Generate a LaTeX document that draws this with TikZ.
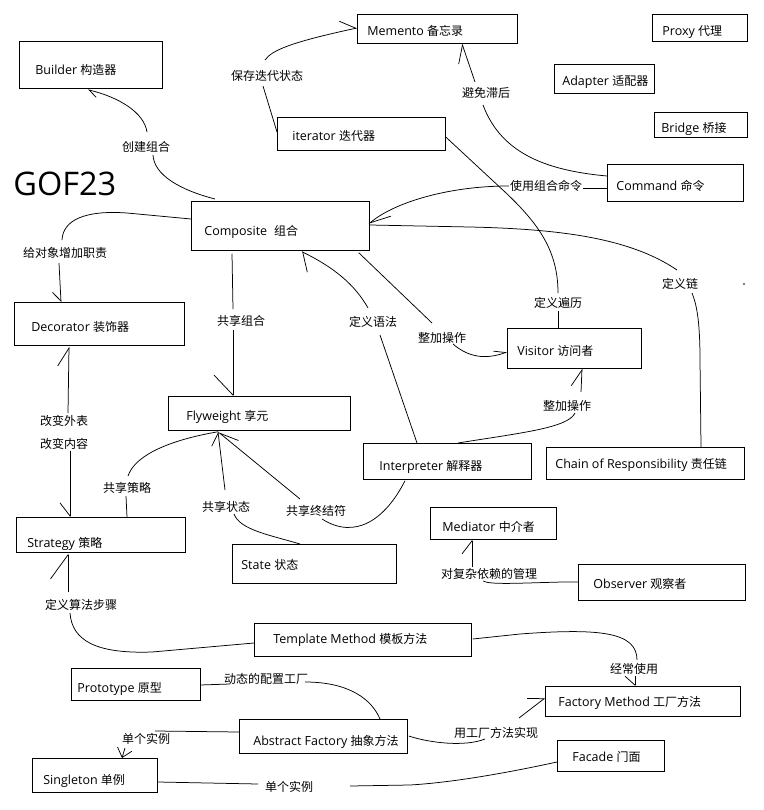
\documentclass[tikz,border=0pt]{standalone}
\usepackage{fontspec}
\setmainfont{Open Sans}
\newfontfamily\cjk{Noto Sans CJK SC}[Scale=0.96]
\usetikzlibrary{arrows.meta,calc}
\newcommand\bxt[4]{\makebox[#1pt][l]{\hspace{#2pt}\raisebox{-#3pt}{#4}}}
\begin{document}
\begin{tikzpicture}[x=1pt,y=-1pt,line width=0.75pt,
  bx/.style n args={2}{draw, anchor=north west, inner sep=0pt, minimum width=#1pt, minimum height=#2pt,
     text height=10pt, text depth=2pt, font=\fontsize{12.5}{15}\selectfont},
  lb/.style={inner sep=1pt, text height=10pt, text depth=2pt, font=\fontsize{12.5}{15}\selectfont\cjk},
  harpL/.style 2 args={-{Straight Barb[left,length=#1pt,width=#2pt]}},
  harpR/.style 2 args={-{Straight Barb[right,length=#1pt,width=#2pt]}},
  fullbarb/.style 2 args={-{Straight Barb[length=#1pt,width=#2pt]}}]
\fill[white] (0,0) rectangle (763,810);
\useasboundingbox (0,0) rectangle (763,810);

% title
\node[anchor=west, inner sep=0pt, text height=23pt, text depth=0pt, font=\fontsize{32.5}{34}\selectfont] (gof) at (13,184) {GOF23};

% boxes
\node[bx={160}{29}] (mem) at (357,14) {\bxt{160}{10}{3.1}{Memento {\cjk 备忘录}}};
\node[bx={95}{27}] (proxy) at (652,14) {\bxt{95}{10}{4.1}{Proxy {\cjk 代理}}};
\node[bx={100}{29}] (adapter) at (554,64) {\bxt{100}{8}{3.1}{Adapter {\cjk 适配器}}};
\node[bx={93}{25}] (bridge) at (654,112) {\bxt{93}{7}{4.1}{Bridge {\cjk 桥接}}};
\node[bx={143}{47}] (builder) at (19,41) {\bxt{143}{16}{6.1}{Builder {\cjk 构造器}}};
\node[bx={168}{33}] (iter) at (277,117) {\bxt{168}{15}{3.1}{iterator {\cjk 迭代器}}};
\node[bx={136}{37}] (cmd) at (607,164) {\bxt{136}{9}{4.1}{Command {\cjk 命令}}};
\node[bx={178}{49}] (comp) at (191,201) {\bxt{178}{13}{6.1}{Composite\hspace{7pt}{\cjk 组合}}};
\node[bx={170}{43}] (deco) at (14,302) {\bxt{170}{17}{4.1}{Decorator {\cjk 装饰器}}};
\node[bx={182}{34}] (fly) at (168,396) {\bxt{182}{18}{3.6}{Flyweight {\cjk 享元}}};
\node[bx={134}{40}] (vis) at (507,328) {\bxt{134}{10}{3.6}{Visitor {\cjk 访问者}}};
\node[bx={168}{36}] (interp) at (363,443) {\bxt{168}{16}{5.6}{Interpreter {\cjk 解释器}}};
\node[bx={198}{32}] (chain) at (546,447) {\bxt{198}{9}{1.6}{Chain of Responsibility {\cjk 责任链}}};
\node[bx={169}{35}] (strat) at (16,517) {\bxt{169}{11}{9.1}{Strategy {\cjk 策略}}};
\node[bx={164}{39}] (state) at (232,544) {\bxt{164}{9}{2.1}{State {\cjk 状态}}};
\node[bx={126}{32}] (med) at (430,507) {\bxt{126}{12}{4.6}{Mediator {\cjk 中介者}}};
\node[bx={167}{36}] (obs) at (578,564) {\bxt{167}{15}{2.6}{Observer {\cjk 观察者}}};
\node[bx={217}{33}] (tmpl) at (254,623) {\bxt{217}{19}{0.1}{Template Method {\cjk 模板方法}}};
\node[bx={129}{32}] (proto) at (71,668) {\bxt{129}{6}{4.6}{Prototype {\cjk 原型}}};
\node[bx={168}{34}] (abs) at (239,719) {\bxt{168}{14}{5.6}{Abstract Factory {\cjk 抽象方法}}};
\node[bx={195}{30}] (fm) at (545,686) {\bxt{195}{13}{1.6}{Factory Method {\cjk 工厂方法}}};
\node[bx={107}{31}] (fac) at (557,740) {\bxt{107}{15}{2.1}{Facade {\cjk 门面}}};
\node[bx={125}{34}] (single) at (32,758) {\bxt{125}{11}{5.6}{Singleton {\cjk 单例}}};

% labels
\node[lb] (l1) at (146,148) {创建组合};
\node[lb] (l2) at (267,77) {保存迭代状态};
\node[lb] (l3) at (486,94) {避免滞后};
\node[lb] (l4) at (546,187) {使用组合命令};
\node[lb] (l5) at (558,303) {定义遍历};
\node[lb] (l6) at (680,284) {定义链};
\node[lb] (l7) at (442,338) {整加操作};
\node[lb] (l8) at (567,406) {整加操作};
\node[lb] (l9) at (373,322) {定义语法};
\node[lb] (l10) at (241,321) {共享组合};
\node[lb] (l11) at (65,253) {给对象增加职责};
\node[lb] (l12a) at (64,421) {改变外表};
\node[lb] (l12b) at (64,444) {改变内容};
\node[lb] (l13) at (127,488) {共享策略};
\node[lb] (l14) at (226,507) {共享状态};
\node[lb] (l15) at (316,511) {共享终结符};
\node[lb] (l16) at (489,574) {对复杂依赖的管理};
\node[lb] (l17) at (81,605) {定义算法步骤};
\node[lb] (l18) at (634,669) {经常使用};
\node[lb] (l19) at (266,679) {动态的配置工厂};
\node[lb] (l20) at (496,733) {用工厂方法实现};
\node[lb] (l21) at (146,739) {单个实例};
\node[lb] (l22) at (289,787) {单个实例};

% connectors
% Composite -> Builder
\draw ($(comp.north west)+(24,-2)$) .. controls (180,190) and (154,175) .. ($(l1)+(7,7)$);
\draw[harpL={8.5}{11}] ($(l1)+(1,-16)$) .. controls (144,112) and (118,97) .. ($(builder.south west)+(69,1)$);
% iterator -> Memento
\draw ($(iter.north west)+(0,15)$) -- ($(l2)+(-4,9)$);
\draw[harpL={14.7}{20.6}] ($(l2)+(-2,-17)$) .. controls (272,50) and (292,42) .. ($(mem.north west)+(0,14)$);
% Command -> Memento
\draw ($(cmd.north west)+(0,12)$) .. controls (540,170) and (500,150) .. ($(l3)+(-3,11)$);
\draw[harpL={16.8}{19.4}] ($(l3)+(-11,-12)$) -- ($(mem.south west)+(105,0)$);
% Command -> Composite
\draw ($(cmd.north west)+(0,24)$) -- ($(l4)+(37,1)$);
\draw[harpL={20}{17}] ($(l4)+(-37,-1)$) .. controls (445,186) and (392,204) .. ($(comp.north east)+(-1,23)$);
% iterator -- Visitor
\draw ($(iter.north east)+(0,20)$) -- (505,192) .. controls (540,225) and (558,252) .. ($(l5)+(0,-10)$);
\draw ($(l5)+(0,8)$) -- ($(vis.north west)+(51,0)$);
% Chain -> Composite
\draw ($(chain.north west)+(155,0)$) -- (700,360) .. controls (700,318) and (696,303) .. ($(l6)+(12,9)$);
\draw ($(l6)+(-3,-14)$) .. controls (630,238) and (560,229) .. (470,227) -- ($(comp.north east)+(0,24)$);
% Composite -> Visitor
\draw ($(comp.south east)+(-11,2)$) -- ($(l7)+(-10,-15)$);
\draw[harpL={11}{11}] ($(l7)+(11,6)$) .. controls (468,357) and (485,360) .. ($(vis.north west)+(0,24)$);
% Interpreter -> Visitor
\draw ($(interp.north west)+(95,0)$) .. controls (520,433) and (568,428) .. ($(l8)+(8,7)$);
\draw[harpL={16}{20}] ($(l8)+(14,-14)$) -- ($(vis.south west)+(75,0)$);
% Interpreter -> Composite
\draw ($(interp.north west)+(54,0)$) -- ($(l9)+(7,13)$);
\draw[harpL={13}{32}] ($(l9)+(-5,-14)$) .. controls (355,285) and (335,268) .. ($(comp.south west)+(111,1)$);
% Composite -> Flyweight
\draw ($(comp.south west)+(41,3)$) -- ($(l10)+(-8,-12)$);
\draw[harpR={20}{38}] ($(l10)+(-8,9)$) -- ($(fly.north west)+(65,0)$);
% Composite -> Decorator
\draw ($(comp.north west)+(0,18)$) -- (127,213) .. controls (85,210) and (63,220) .. ($(l11)+(-3,-13)$);
\draw[harpR={9}{16}] ($(l11)+(-6,10)$) -- ($(deco.north west)+(47,0)$);
% Strategy <-> Decorator
\draw[harpL={18}{22}] ($(l12a)+(4,-8)$) -- ($(deco.south west)+(55,1)$);
\draw[harpR={13}{20}] ($(l12b)+(6,7)$) -- ($(strat.north west)+(54,0)$);
% Strategy -> Flyweight
\draw ($(strat.north west)+(111,0)$) -- ($(l13)+(-1,8)$);
\draw ($(l13)+(1,-12)$) .. controls (135,455) and (170,440) .. ($(fly.south west)+(50,1)$);
% State -> Flyweight
\draw ($(state.north west)+(68,0)$) .. controls (270,535) and (240,530) .. ($(l14)+(8,7)$);
\draw[harpL={12.4}{16}] ($(l14)+(-1,-17)$) -- ($(fly.south west)+(50,1)$);
% Interpreter -> Flyweight
\draw ($(interp.south west)+(42,1)$) .. controls (385,520) and (355,540) .. ($(l15)+(6,8)$);
\draw[harpR={19}{12.4}] ($(l15)+(-16,-12)$) -- ($(fly.south west)+(50,1)$);
% Observer -> Mediator
\draw[harpL={13}{20}] ($(l16)+(-17,-7)$) -- ($(med.south west)+(42,0)$);
\draw ($(l16)+(-6,7)$) .. controls (490,585) and (520,583) .. (563,582) -- ($(obs.north west)+(0,18)$);
% Template -> Strategy
\draw ($(tmpl.north west)+(0,20)$) -- (152,652) .. controls (95,654) and (72,640) .. ($(l17)+(-11,8)$);
\draw[harpL={24}{35}] ($(l17)+(-13,-13)$) -- ($(strat.south west)+(52,1)$);
% Template -> Factory Method
\draw ($(tmpl.north east)+(1,16)$) -- (520,634) .. controls (600,628) and (637,632) .. ($(l18)+(3,-9)$);
\draw[harpR={9}{20}] ($(l18)+(1,7)$) -- ($(fm.north west)+(90,0)$);
% Abstract Factory -- Prototype
\draw ($(proto.north west)+(129,17)$) -- ($(l19)+(-36,5)$);
\draw ($(l19)+(39,3)$) .. controls (350,682) and (372,700) .. ($(abs.north west)+(141,0)$);
% Abstract Factory -> Factory Method
\draw ($(abs.north east)+(1,17)$) .. controls (430,743) and (465,747) .. ($(l20)+(-11,6)$);
\draw[harpL={13.4}{21}] ($(l20)+(23,-15)$) -- ($(fm.north west)+(0,12)$);
% Abstract Factory -> Singleton
\draw ($(abs.north west)+(0,13)$) -- ($(l21)+(9,-8)$);
\draw[fullbarb={8.7}{15}] ($(l21)+(-21,9)$) -- ($(single.north west)+(90,0)$);
% Facade -- Singleton
\draw ($(single.north east)+(0,24)$) -- ($(l22)+(-31,-3)$);
\draw ($(l22)+(61,-1)$) -- (410,785) .. controls (460,782) and (520,770) .. ($(fac.north west)+(0,22)$);

% stray dot
\fill (744,284) circle[radius=0.8pt];
\end{tikzpicture}
\end{document}
